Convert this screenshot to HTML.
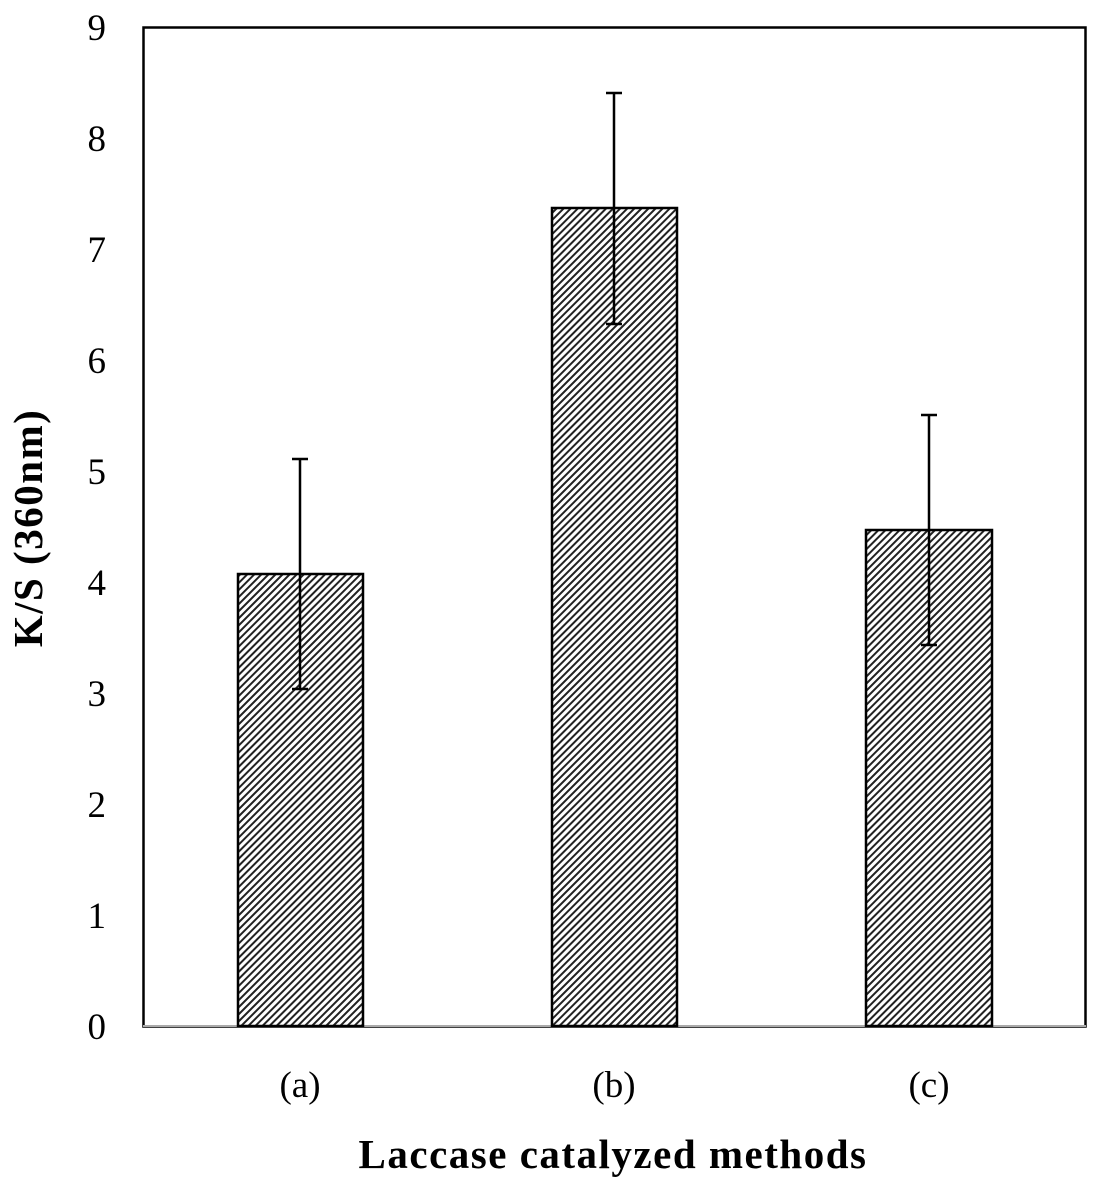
<!DOCTYPE html>
<html><head><style>body{margin:0;background:#fff}</style></head><body>
<svg width="1102" height="1188" xmlns="http://www.w3.org/2000/svg" font-family="Liberation Serif, serif">
<defs>
<pattern id="h" patternUnits="userSpaceOnUse" width="5" height="5" patternTransform="rotate(45)">
<rect width="5" height="5" fill="#fff"/>
<rect width="2" height="5" fill="#222"/>
</pattern>
</defs>
<rect x="143.5" y="27.5" width="942" height="999" fill="none" stroke="#000" stroke-width="2.5"/>
<line x1="143" y1="1026" x2="1086" y2="1026" stroke="#aaa" stroke-width="2"/>
<g stroke="#000" stroke-width="2.5">
<rect x="238" y="574" width="125" height="452" fill="url(#h)"/>
<rect x="552" y="208" width="125" height="818" fill="url(#h)"/>
<rect x="866" y="530" width="126" height="496" fill="url(#h)"/>
<path d="M300 459V689M292 459H308M292 689H308" fill="none"/>
<path d="M614 93V324M606 93H622M606 324H622" fill="none"/>
<path d="M929 415V645M921 415H937M921 645H937" fill="none"/>
</g>
<g font-size="37" text-anchor="end">
<text x="106" y="1039">0</text><text x="106" y="928">1</text><text x="106" y="817">2</text>
<text x="106" y="706">3</text><text x="106" y="595">4</text><text x="106" y="484">5</text>
<text x="106" y="373">6</text><text x="106" y="262">7</text><text x="106" y="151">8</text>
<text x="106" y="40">9</text>
</g>
<g font-size="37" text-anchor="middle">
<text x="300" y="1097">(a)</text><text x="614" y="1097">(b)</text><text x="929" y="1097">(c)</text>
</g>
<text x="613" y="1168" font-size="41" font-weight="bold" letter-spacing="1.5" text-anchor="middle">Laccase catalyzed methods</text>
<text transform="translate(42,528) rotate(-90)" font-size="41" font-weight="bold" letter-spacing="1.5" text-anchor="middle">K/S (360nm)</text>
</svg>
</body></html>
